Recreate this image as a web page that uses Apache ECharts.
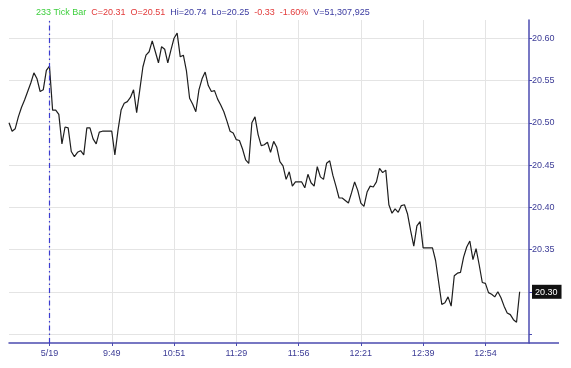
<!DOCTYPE html>
<html>
<head>
<meta charset="utf-8">
<script src="https://cdn.jsdelivr.net/npm/echarts@6/dist/echarts.min.js"></script>
<style>
  html, body { margin: 0; padding: 0; background: #ffffff; }
  #chart { width: 571px; height: 368px; }
</style>
</head>
<body>
<div id="chart"></div>
<script>
// ---- data ----
const prices = [
  20.500, 20.490, 20.493, 20.507, 20.518, 20.527, 20.537, 20.547, 20.559, 20.552,
  20.537, 20.539, 20.562, 20.567, 20.515, 20.515, 20.510, 20.475, 20.495, 20.494,
  20.466, 20.460, 20.465, 20.467, 20.462, 20.494, 20.494, 20.481, 20.475, 20.489,
  20.490, 20.490, 20.490, 20.490, 20.462, 20.491, 20.515, 20.523, 20.525, 20.530,
  20.539, 20.512, 20.539, 20.566, 20.580, 20.584, 20.597, 20.584, 20.571, 20.590,
  20.587, 20.571, 20.586, 20.600, 20.606, 20.578, 20.580, 20.561, 20.529, 20.522,
  20.513, 20.539, 20.552, 20.560, 20.544, 20.537, 20.538, 20.528, 20.521, 20.513,
  20.502, 20.490, 20.488, 20.480, 20.479, 20.469, 20.456, 20.452, 20.500, 20.507,
  20.486, 20.473, 20.474, 20.477, 20.465, 20.478, 20.471, 20.454, 20.449, 20.433,
  20.442, 20.425, 20.430, 20.430, 20.430, 20.423, 20.439, 20.429, 20.425, 20.448,
  20.436, 20.433, 20.452, 20.455, 20.438, 20.425, 20.411, 20.411, 20.408, 20.405,
  20.417, 20.430, 20.420, 20.405, 20.401, 20.418, 20.425, 20.424, 20.430, 20.446,
  20.441, 20.444, 20.403, 20.393, 20.398, 20.394, 20.402, 20.403, 20.392, 20.372,
  20.354, 20.378, 20.383, 20.352, 20.352, 20.352, 20.352, 20.337, 20.311, 20.285,
  20.287, 20.294, 20.283, 20.319, 20.322, 20.323, 20.341, 20.353, 20.360, 20.338,
  20.351, 20.332, 20.311, 20.310, 20.299, 20.297, 20.294, 20.300, 20.293, 20.283,
  20.275, 20.273, 20.267, 20.264, 20.300
];
const totalBars = 168;                 // bar slots on the axis (last ones empty)
const tickLabels = ['5/19', '9:49', '10:51', '11:29', '11:56', '12:21', '12:39', '12:54'];
const tickBarIndex = [13, 33, 53, 73, 93, 113, 133, 153];
const sessionBreakIndex = 13;          // 5/19 day separator
const yMin = 20.2394, yMax = 20.6216, yStep = 0.05;
const lastPrice = 20.30;
const headerItems = [
  ['233 Tick Bar', 'g'], ['C=20.31', 'r'], ['O=20.51', 'r'], ['Hi=20.74', 'b'],
  ['Lo=20.25', 'b'], ['-0.33', 'r'], ['-1.60%', 'r'], ['V=51,307,925', 'b']
];

// ---- build ----
const categories = [];
const seriesData = [];
for (let i = 0; i < totalBars; i++) {
  categories.push(String(i));
  seriesData.push(i < prices.length ? prices[i] : null);
}
const labelMap = {};
tickBarIndex.forEach((idx, k) => { labelMap[idx] = tickLabels[k]; });
const isTick = (idx) => labelMap[idx] !== undefined;

const AXIS_BLUE = '#4b4bb0';
const TEXT_BLUE = '#3c3c96';
const FONT = 'Liberation Sans';

const headerText = headerItems.map(h => '{' + h[1] + '|' + h[0] + '}').join('  ');

const chart = echarts.init(document.getElementById('chart'), null, { renderer: 'canvas' });
chart.setOption({
  animation: false,
  backgroundColor: '#ffffff',
  title: {
    text: headerText,
    left: 36,
    top: 8,
    padding: 0,
    textStyle: {
      fontFamily: FONT,
      fontSize: 9,
      fontWeight: 'normal',
      rich: {
        g: { color: '#3ecf3e', fontFamily: FONT, fontSize: 9 },
        r: { color: '#e23a3a', fontFamily: FONT, fontSize: 9 },
        b: { color: '#3a3aa0', fontFamily: FONT, fontSize: 9 }
      }
    }
  },
  grid: { left: 9, right: 42, top: 20, bottom: 25, containLabel: false },
  xAxis: {
    type: 'category',
    data: categories,
    boundaryGap: false,
    axisLine: { show: true, lineStyle: { color: AXIS_BLUE, width: 1.5 } },
    axisTick: {
      show: true, length: 3, inside: false,
      interval: (idx) => isTick(idx),
      lineStyle: { color: AXIS_BLUE }
    },
    axisLabel: {
      show: true,
      interval: (idx) => isTick(idx),
      formatter: (val, idx) => labelMap[idx] || '',
      color: TEXT_BLUE, fontFamily: FONT, fontSize: 9, margin: 6
    },
    splitLine: {
      show: true,
      interval: (idx) => isTick(idx),
      lineStyle: { color: '#e4e4e4', width: 1 }
    }
  },
  yAxis: {
    type: 'value',
    position: 'right',
    min: yMin,
    max: yMax,
    splitNumber: 7,
    minInterval: yStep,
    maxInterval: yStep,
    scale: true,
    axisLine: { show: true, lineStyle: { color: AXIS_BLUE, width: 1.5 } },
    axisTick: { show: true, length: 3, inside: false, lineStyle: { color: AXIS_BLUE } },
    axisLabel: {
      show: true,
      showMinLabel: false,
      showMaxLabel: false,
      margin: 3,
      color: TEXT_BLUE, fontFamily: FONT, fontSize: 9,
      formatter: (v) => {
        const k = Math.round(v / yStep);
        if (Math.abs(v - k * yStep) > 1e-6) return '';
        if (Math.abs(v - lastPrice) < 1e-6) return '{box|' + v.toFixed(2) + '}';
        if (Math.abs(v - 20.25) < 1e-6) return '';
        return v.toFixed(2);
      },
      rich: {
        box: {
          color: '#ffffff', backgroundColor: '#111111',
          fontFamily: FONT, fontSize: 9,
          padding: [3, 4, 2, 3]
        }
      }
    },
    splitLine: {
      show: true,
      showMinLine: false,
      showMaxLine: false,
      lineStyle: { color: '#e4e4e4', width: 1 }
    }
  },
  series: [{
    type: 'line',
    data: seriesData,
    showSymbol: false,
    symbol: 'none',
    connectNulls: false,
    lineStyle: { color: '#1e1e1e', width: 1.2 },
    markLine: {
      silent: true,
      symbol: ['none', 'none'],
      label: { show: false },
      lineStyle: { color: '#3b3bd0', width: 1.2, type: [5, 3, 1.5, 3] },
      data: [{ xAxis: String(sessionBreakIndex) }]
    }
  }],
  graphic: [{
    type: 'line',
    shape: { x1: 529, y1: 343, x2: 559, y2: 343 },
    style: { stroke: AXIS_BLUE, lineWidth: 1.5 },
    silent: true
  }]
});
</script>
</body>
</html>
